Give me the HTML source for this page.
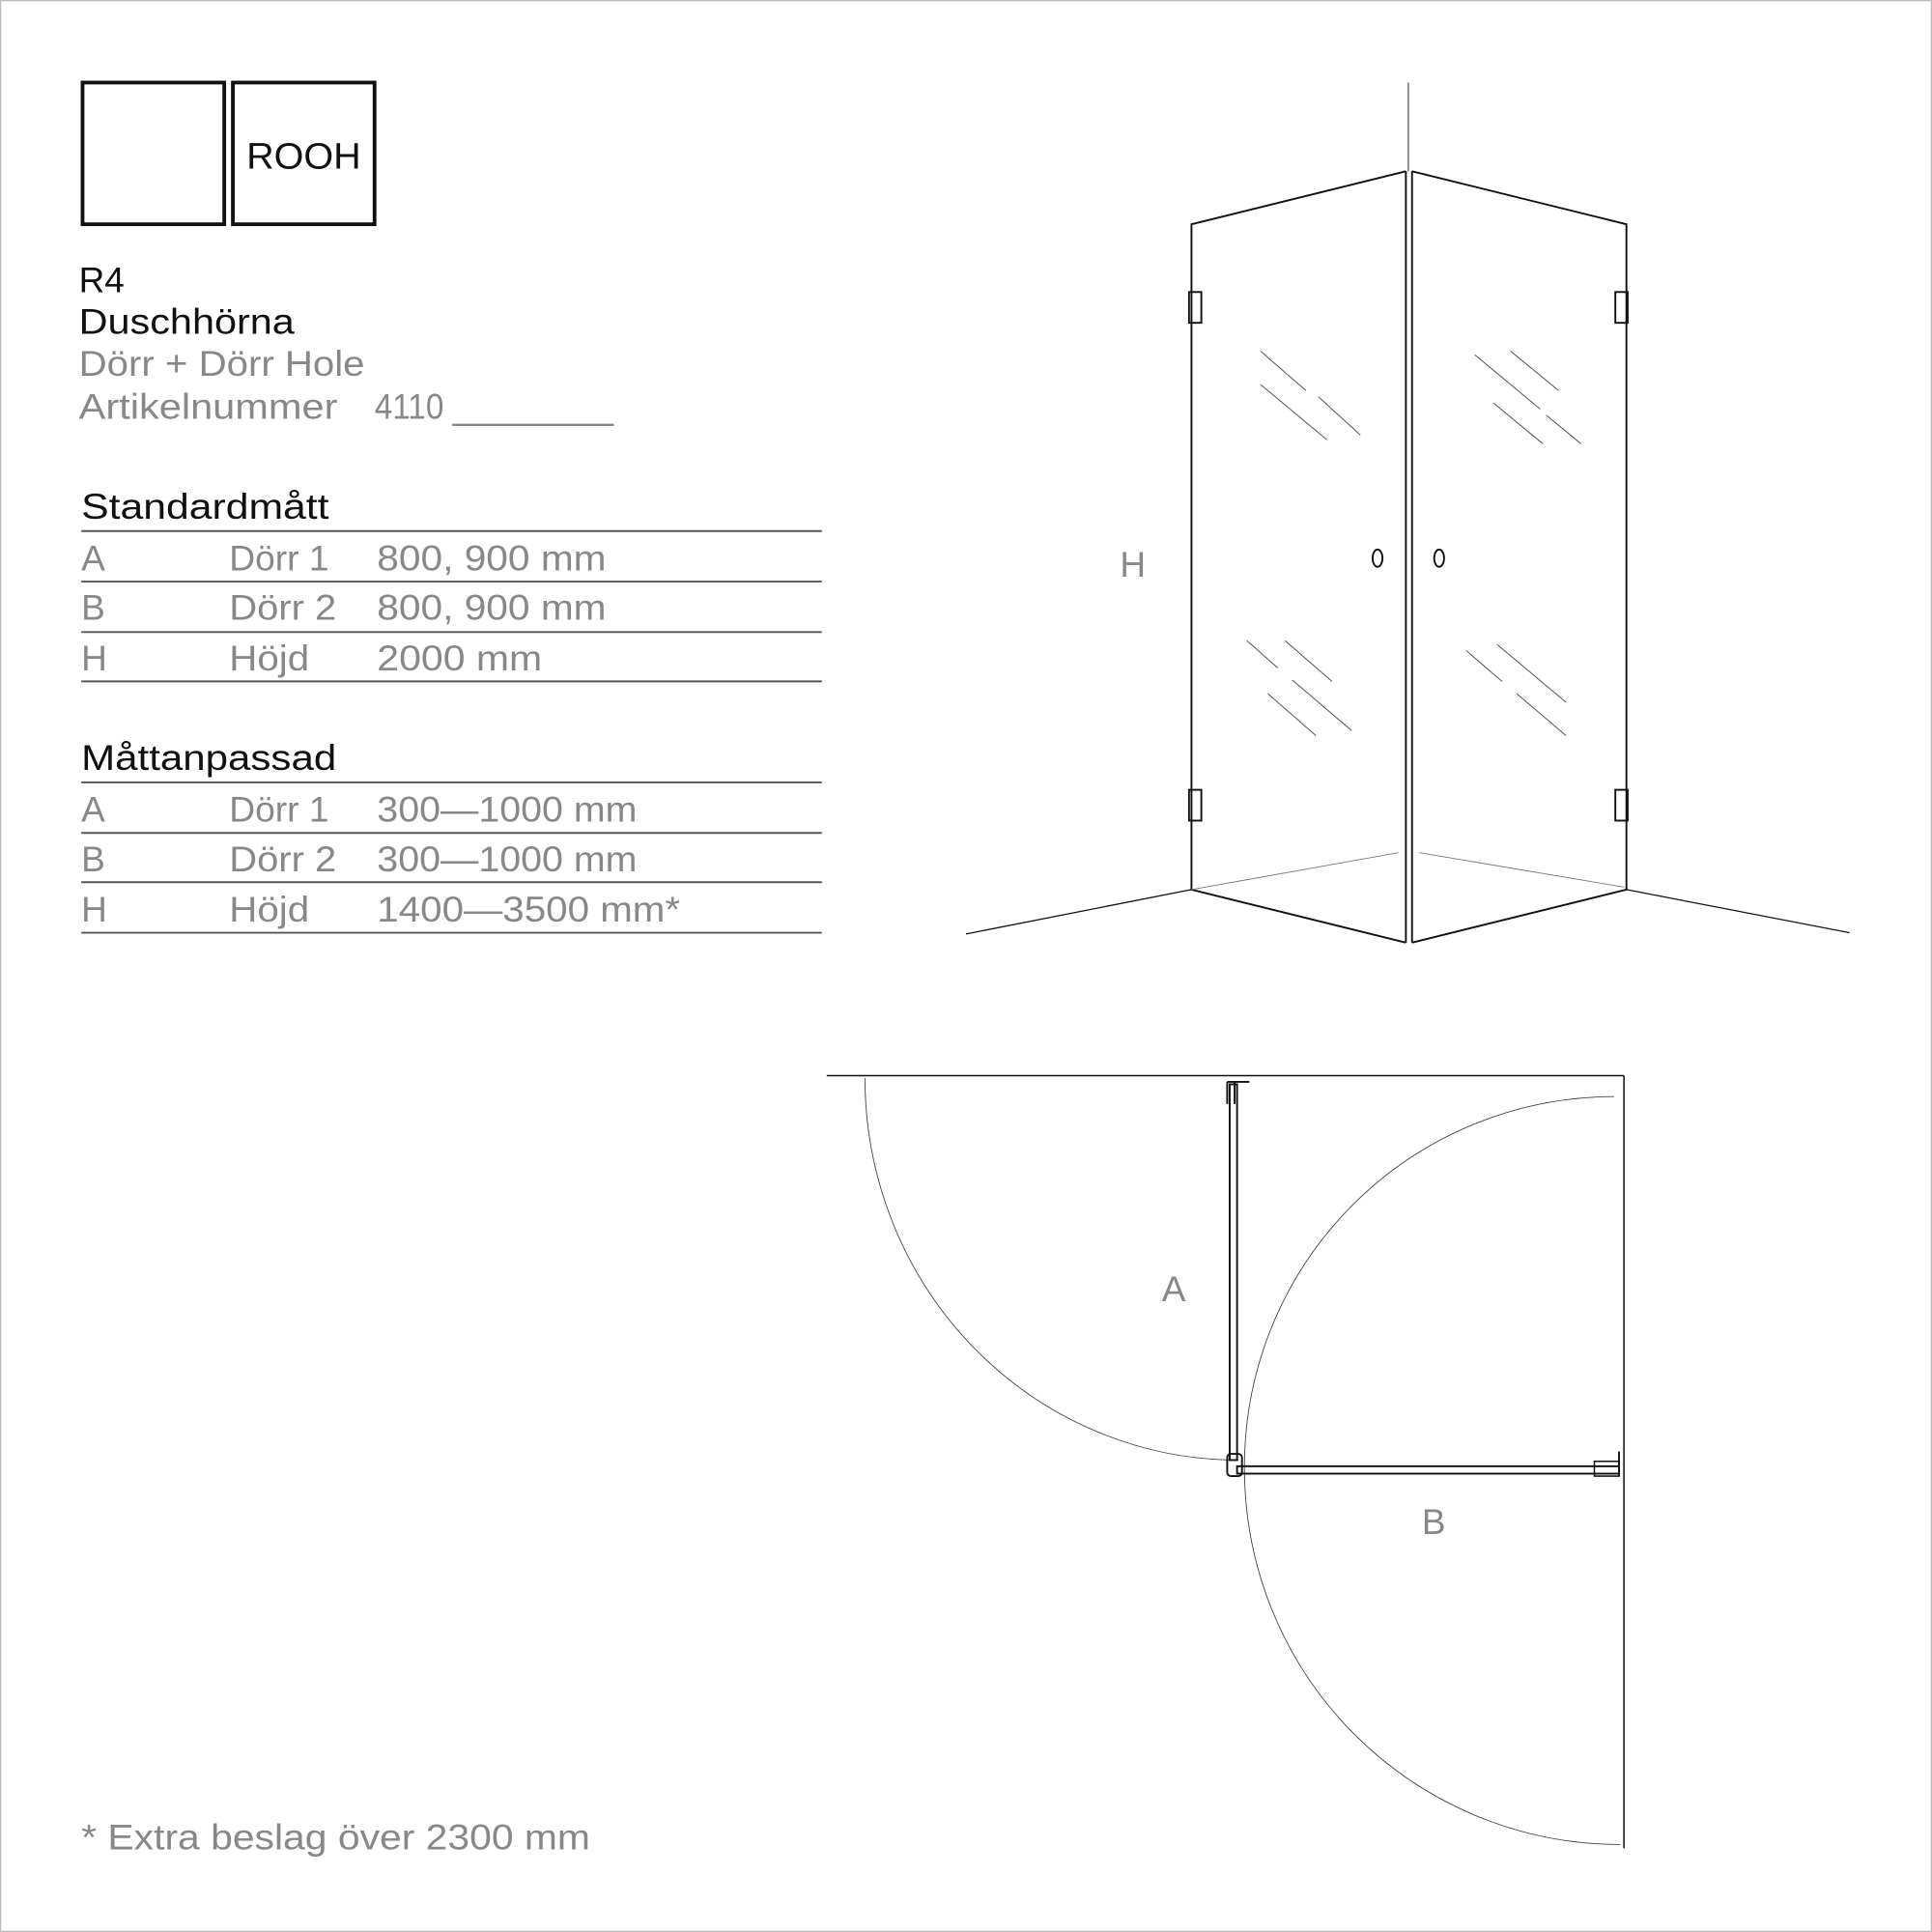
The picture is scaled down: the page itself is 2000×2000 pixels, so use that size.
<!DOCTYPE html>
<html><head><style>
html,body{margin:0;padding:0;background:#fff;}
svg{display:block;}
text{font-family:"Liberation Sans",sans-serif;}
</style></head><body>
<svg width="2000" height="2000" viewBox="0 0 1568 1568" xmlns="http://www.w3.org/2000/svg">
<rect x="0.5" y="0.5" width="1567" height="1567" fill="#fff" stroke="#bbb" stroke-width="1"/>
<rect x="67" y="67" width="115" height="115" fill="none" stroke="#111" stroke-width="3"/>
<rect x="189" y="67" width="115" height="115" fill="none" stroke="#111" stroke-width="3"/>
<text x="200" y="137" font-size="30" fill="#111" textLength="93" lengthAdjust="spacingAndGlyphs">ROOH</text>
<g font-size="29">
<text x="64" y="237" fill="#111" textLength="37" lengthAdjust="spacingAndGlyphs">R4</text>
<text x="64" y="271" fill="#111" textLength="175" lengthAdjust="spacingAndGlyphs">Duschhörna</text>
<text x="64" y="305" fill="#888" textLength="232" lengthAdjust="spacingAndGlyphs">Dörr + Dörr  Hole</text>
<text x="64" y="340" fill="#888" textLength="210" lengthAdjust="spacingAndGlyphs">Artikelnummer</text>
<text x="304" y="340" fill="#888" textLength="194" lengthAdjust="spacingAndGlyphs">4110 _________</text>
<text x="66" y="421" fill="#111" textLength="201" lengthAdjust="spacingAndGlyphs">Standardmått</text>
<text x="66" y="625" fill="#111" textLength="207" lengthAdjust="spacingAndGlyphs">Måttanpassad</text>
</g>
<g font-size="29" fill="#888">
<text x="66" y="463">A</text><text x="186" y="463" textLength="81" lengthAdjust="spacingAndGlyphs">Dörr 1</text><text x="306" y="463" textLength="186" lengthAdjust="spacingAndGlyphs">800, 900 mm</text>
<text x="66" y="503">B</text><text x="186" y="503" textLength="87" lengthAdjust="spacingAndGlyphs">Dörr 2</text><text x="306" y="503" textLength="186" lengthAdjust="spacingAndGlyphs">800, 900 mm</text>
<text x="66" y="544">H</text><text x="186" y="544" textLength="65" lengthAdjust="spacingAndGlyphs">Höjd</text><text x="306" y="544" textLength="134" lengthAdjust="spacingAndGlyphs">2000 mm</text>
<text x="66" y="667">A</text><text x="186" y="667" textLength="81" lengthAdjust="spacingAndGlyphs">Dörr 1</text><text x="306" y="667" textLength="211" lengthAdjust="spacingAndGlyphs">300—1000 mm</text>
<text x="66" y="707">B</text><text x="186" y="707" textLength="87" lengthAdjust="spacingAndGlyphs">Dörr 2</text><text x="306" y="707" textLength="211" lengthAdjust="spacingAndGlyphs">300—1000 mm</text>
<text x="66" y="748">H</text><text x="186" y="748" textLength="65" lengthAdjust="spacingAndGlyphs">Höjd</text><text x="306" y="748" textLength="246" lengthAdjust="spacingAndGlyphs">1400—3500 mm*</text>
<text x="66" y="1501" textLength="413" lengthAdjust="spacingAndGlyphs">* Extra beslag över 2300 mm</text>
<text x="909" y="468">H</text>
<text x="943" y="1056">A</text>
<text x="1154" y="1245">B</text>
</g>
<g stroke="#555" stroke-width="1.5">
<line x1="66" y1="431" x2="667" y2="431"/><line x1="66" y1="472" x2="667" y2="472"/>
<line x1="66" y1="513" x2="667" y2="513"/><line x1="66" y1="553" x2="667" y2="553"/>
<line x1="66" y1="635" x2="667" y2="635"/><line x1="66" y1="676" x2="667" y2="676"/>
<line x1="66" y1="716" x2="667" y2="716"/><line x1="66" y1="757" x2="667" y2="757"/>
</g>
<g fill="none" stroke="#111" stroke-width="1.5">
<line x1="1143" y1="67" x2="1143" y2="139" stroke-width="1" stroke="#555"/>
<polyline points="1141,139 967,182 967,722 1141,765"/>
<polyline points="1146,139 1320,182 1320,722 1146,765"/>
<line x1="1141" y1="139" x2="1141" y2="765"/>
<line x1="1146" y1="139" x2="1146" y2="765"/>
<line x1="784" y1="758" x2="967" y2="722" stroke-width="1"/>
<line x1="1320" y1="722" x2="1501" y2="757" stroke-width="1"/>
<line x1="967" y1="722" x2="1135" y2="692" stroke-width="0.7" stroke="#777"/>
<line x1="1152" y1="692" x2="1318" y2="720" stroke-width="0.7" stroke="#777"/>
<rect x="965" y="237" width="10" height="25"/><rect x="1311" y="237" width="10" height="25"/>
<rect x="965" y="641" width="10" height="25"/><rect x="1311" y="641" width="10" height="25"/>
<ellipse cx="1118" cy="453" rx="4" ry="7"/><ellipse cx="1168" cy="453" rx="4" ry="7"/>
</g>
<g stroke="#555" stroke-width="0.8">
<line x1="1023" y1="285" x2="1060" y2="317"/><line x1="1023" y1="312" x2="1077" y2="357"/><line x1="1070" y1="322" x2="1104" y2="353"/>
<line x1="1197" y1="288" x2="1250" y2="332"/><line x1="1226" y1="285" x2="1265" y2="317"/><line x1="1212" y1="327" x2="1252" y2="360"/><line x1="1255" y1="337" x2="1283" y2="360"/>
<line x1="1012" y1="520" x2="1037" y2="542"/><line x1="1043" y1="520" x2="1081" y2="553"/><line x1="1049" y1="552" x2="1097" y2="593"/><line x1="1029" y1="563" x2="1068" y2="597"/>
<line x1="1190" y1="528" x2="1219" y2="553"/><line x1="1215" y1="523" x2="1271" y2="570"/><line x1="1231" y1="563" x2="1271" y2="597"/>
</g>
<g fill="none" stroke="#111">
<line x1="671" y1="873" x2="1318" y2="873" stroke-width="1.2"/>
<line x1="1318" y1="873" x2="1318" y2="1500" stroke-width="1.2"/>
<path d="M702,875 A303,310 0 0 0 1005,1185" stroke-width="0.7" stroke="#444"/>
<path d="M1010,1192 A300,300 0 0 1 1310,890" stroke-width="0.7" stroke="#444"/>
<path d="M1010,1192 A305,305 0 0 0 1315,1497" stroke-width="0.7" stroke="#444"/>
<rect x="998" y="880" width="6" height="305" stroke-width="1.5"/>
<path d="M996,878 h18 M996,878 v18 M1002,878 v18" stroke-width="1.5"/>
<rect x="1004" y="1190" width="310" height="6" stroke-width="1.5"/>
<rect x="1294" y="1186" width="20" height="12" stroke-width="1.2"/>
<line x1="1314" y1="1178" x2="1314" y2="1198" stroke-width="1.5"/>
<rect x="996" y="1180" width="12" height="18" rx="3" stroke-width="1.5"/>
</g>
</svg>
</body></html>
